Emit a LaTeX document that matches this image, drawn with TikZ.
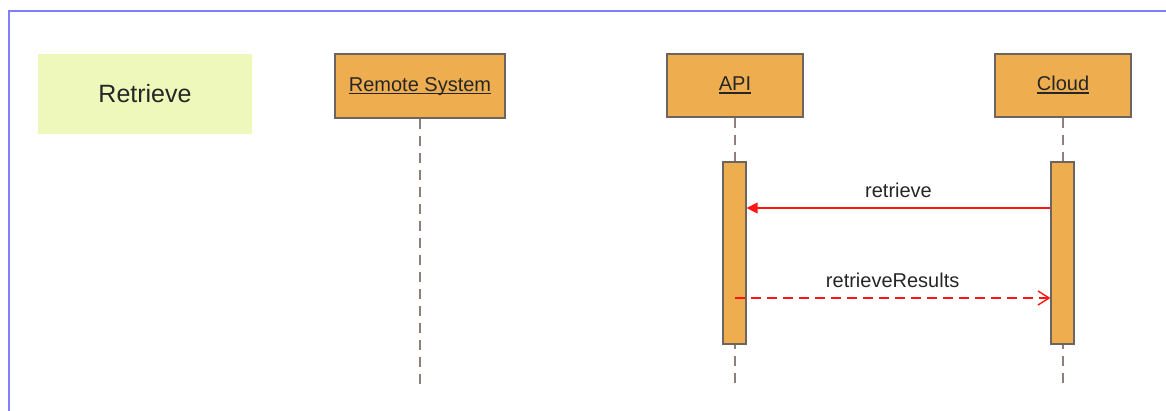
\documentclass[tikz,border=0pt]{standalone}
\usepackage{fontspec}
\setmainfont{Liberation Sans}
\usetikzlibrary{arrows.meta}
\definecolor{objfill}{RGB}{238,174,80}
\definecolor{objdraw}{RGB}{110,100,95}
\definecolor{lifecol}{RGB}{140,128,122}
\definecolor{notefill}{RGB}{238,248,186}
\definecolor{framecol}{RGB}{128,128,255}
\definecolor{msgred}{RGB}{255,20,20}
\newcommand\ulin[1]{\setbox0\hbox{#1}\rlap{\rule[-3pt]{\wd0}{1.1pt}}\box0}
\tikzset{
  objbox/.style={draw=objdraw, fill=objfill, line width=1.3pt, inner sep=0pt,
    text height=14.5pt, text depth=4.5pt, text=black!85,
    font=\fontsize{20}{24}\selectfont},
  actbar/.style={draw=objdraw, fill=objfill, line width=1.3pt, inner sep=0pt,
    minimum width=23pt, minimum height=182pt},
  lifeline/.style={draw=lifecol, line width=1.6pt, dash pattern=on 10pt off 7pt},
  callmsg/.style={draw=msgred, line width=1.4pt, -{Triangle[length=11pt,width=11pt]}},
  retmsg/.style={draw=msgred, line width=1.4pt, dash pattern=on 10pt off 6pt,
    -{Straight Barb[length=11pt,width=14pt,line width=1.4pt]}},
  msglabel/.style={font=\fontsize{20}{24}\selectfont, text=black!85},
}
\begin{document}
\begin{tikzpicture}[x=1pt,y=-1pt]
\useasboundingbox (0,0) rectangle (1166,410);
% frame
\draw[framecol, line width=2.5pt] (9,420) -- (9,11) -- (1175,11);
% title note
\node[fill=notefill, minimum width=214pt, minimum height=80pt, inner sep=0pt,
  font=\fontsize{25}{30}\selectfont, text=black!85] (retr) at (145,94) {Retrieve};
% objects
\node[objbox, minimum width=170pt, minimum height=64pt] (rs) at (420,86) {\ulin{Remote System}};
\node[objbox, minimum width=136pt, minimum height=63pt] (api) at (735,85.5) {\ulin{API}};
\node[objbox, minimum width=136pt, minimum height=63pt] (cloud) at (1063,85.5) {\ulin{Cloud}};
% lifeline ends
\coordinate (rsend) at (420,388);
\coordinate (apiend) at (735,388);
\coordinate (cloudend) at (1063,388);
\draw[lifeline] (rs.south) -- (rsend);
\draw[lifeline] (api.south) -- (apiend);
\draw[lifeline] (cloud.south) -- (cloudend);
% activation bars
\node[actbar] (abar) at (734.5,253) {};
\node[actbar] (cbar) at (1062.5,253) {};
% messages
\draw[callmsg] (cbar.west |- 0,208) -- (abar.east |- 0,208)
  node[msglabel, midway, above=6pt] (lret) {retrieve};
\coordinate (retstart) at (735,298);
\draw[retmsg] (retstart) -- (cbar.west |- retstart)
  node[msglabel, midway, above=6pt] (lres) {retrieveResults};
\end{tikzpicture}
\end{document}
